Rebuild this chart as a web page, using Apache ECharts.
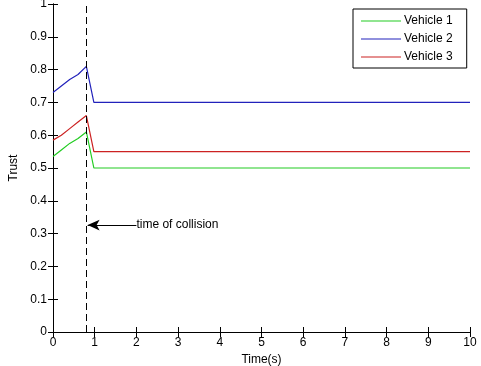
<!DOCTYPE html>
<html>
<head>
<meta charset="utf-8">
<script src="https://cdn.jsdelivr.net/npm/echarts@6/dist/echarts.min.js"></script>
<style>
  html, body { margin: 0; padding: 0; background: #fff; }
  #chart { width: 481px; height: 366px; }
</style>
</head>
<body>
<div id="chart"></div>
<script>
const xTicks = [0, 1, 2, 3, 4, 5, 6, 7, 8, 9, 10]
const yTicks = [0, 0.1, 0.2, 0.3, 0.4, 0.5, 0.6, 0.7, 0.8, 0.9, 1]

// time points (s)
const time = [0, 0.2, 0.4, 0.6, 0.8, 0.98, 10]
const vehicle1 = [0.535, 0.555, 0.575, 0.59, 0.61, 0.5, 0.5]
const vehicle2 = [0.73, 0.75, 0.77, 0.785, 0.81, 0.7, 0.7]
const vehicle3 = [0.585, 0.6, 0.62, 0.64, 0.66, 0.55, 0.55]

const collisionTime = 0.8
const arrowFrom = [2.0, 0.326]
const arrowTo = [0.83, 0.326]

const font = 'Liberation Sans, Arial, sans-serif'
const chart = echarts.init(document.getElementById('chart'))

const pairs = ys => time.map((t, i) => [t, ys[i]])

const tickAxis = {
  min: 0,
  type: 'value',
  axisLine: { show: true, lineStyle: { color: '#000', width: 1 } },
  axisTick: { show: true, inside: true, length: 5, lineStyle: { color: '#000' } },
  splitLine: { show: false },
}

chart.setOption({
  animation: false,
  grid: { left: 53, right: 11, top: 4, bottom: 34, outerBoundsMode: 'none' },
  legend: {
    orient: 'vertical',
    left: 353,
    top: 9,
    icon: 'rect',
    itemWidth: 40,
    itemHeight: 1.2,
    itemGap: 6,
    padding: [6, 14, 5, 8],
    borderColor: '#000',
    borderWidth: 1,
    backgroundColor: '#fff',
    textStyle: { fontFamily: font, fontSize: 12, color: '#000', padding: [0, 0, 0, -2] },
    data: ['Vehicle 1', 'Vehicle 2', 'Vehicle 3'],
  },
  xAxis: [{
    ...tickAxis,
    max: 10,
    interval: 1,
    name: 'Time(s)',
    nameLocation: 'middle',
    nameGap: 20,
    nameTextStyle: { fontFamily: font, fontSize: 12, color: '#000' },
    axisLabel: { fontFamily: font, fontSize: 12, color: '#000', margin: 5 },
  }, {
    ...tickAxis,
    max: 10,
    interval: 1,
    position: 'top',
    axisLabel: { show: false },
  }],
  yAxis: [{
    ...tickAxis,
    max: 1,
    interval: 0.1,
    name: 'Trust',
    nameLocation: 'middle',
    nameGap: 30,
    nameTextStyle: { fontFamily: font, fontSize: 12, color: '#000' },
    axisLabel: {
      fontFamily: font, fontSize: 12, color: '#000', margin: 6,
      formatter: v => (v === 0 || v === 1) ? String(v) : v.toFixed(1),
    },
  }, {
    ...tickAxis,
    max: 1,
    interval: 0.1,
    position: 'right',
    axisLabel: { show: false },
  }],
  series: [{
    name: 'Vehicle 1',
    type: 'line',
    data: pairs(vehicle1),
    symbol: 'none',
    color: '#22cc22',
    lineStyle: { width: 1.2 },
    markLine: {
      silent: true,
      symbol: ['none', 'none'],
      label: { show: false },
      lineStyle: { color: '#000', type: [7, 4], width: 1 },
      data: [{ xAxis: collisionTime }],
    },
  }, {
    name: 'Vehicle 2',
    type: 'line',
    data: pairs(vehicle2),
    symbol: 'none',
    color: '#2222bb',
    lineStyle: { width: 1.2 },
    markLine: {
      silent: true,
      symbol: ['none', 'arrow'],
      symbolSize: [8, 12],
      lineStyle: { color: '#000', type: 'solid', width: 1 },
      label: {
        show: true,
        position: 'start',
        formatter: 'time of collision',
        fontFamily: font,
        fontSize: 12,
        color: '#000',
        distance: 0,
      },
      data: [[{ coord: arrowFrom }, { coord: arrowTo }]],
    },
  }, {
    name: 'Vehicle 3',
    type: 'line',
    data: pairs(vehicle3),
    symbol: 'none',
    color: '#cc2222',
    lineStyle: { width: 1.2 },
  }],
})
</script>
</body>
</html>
